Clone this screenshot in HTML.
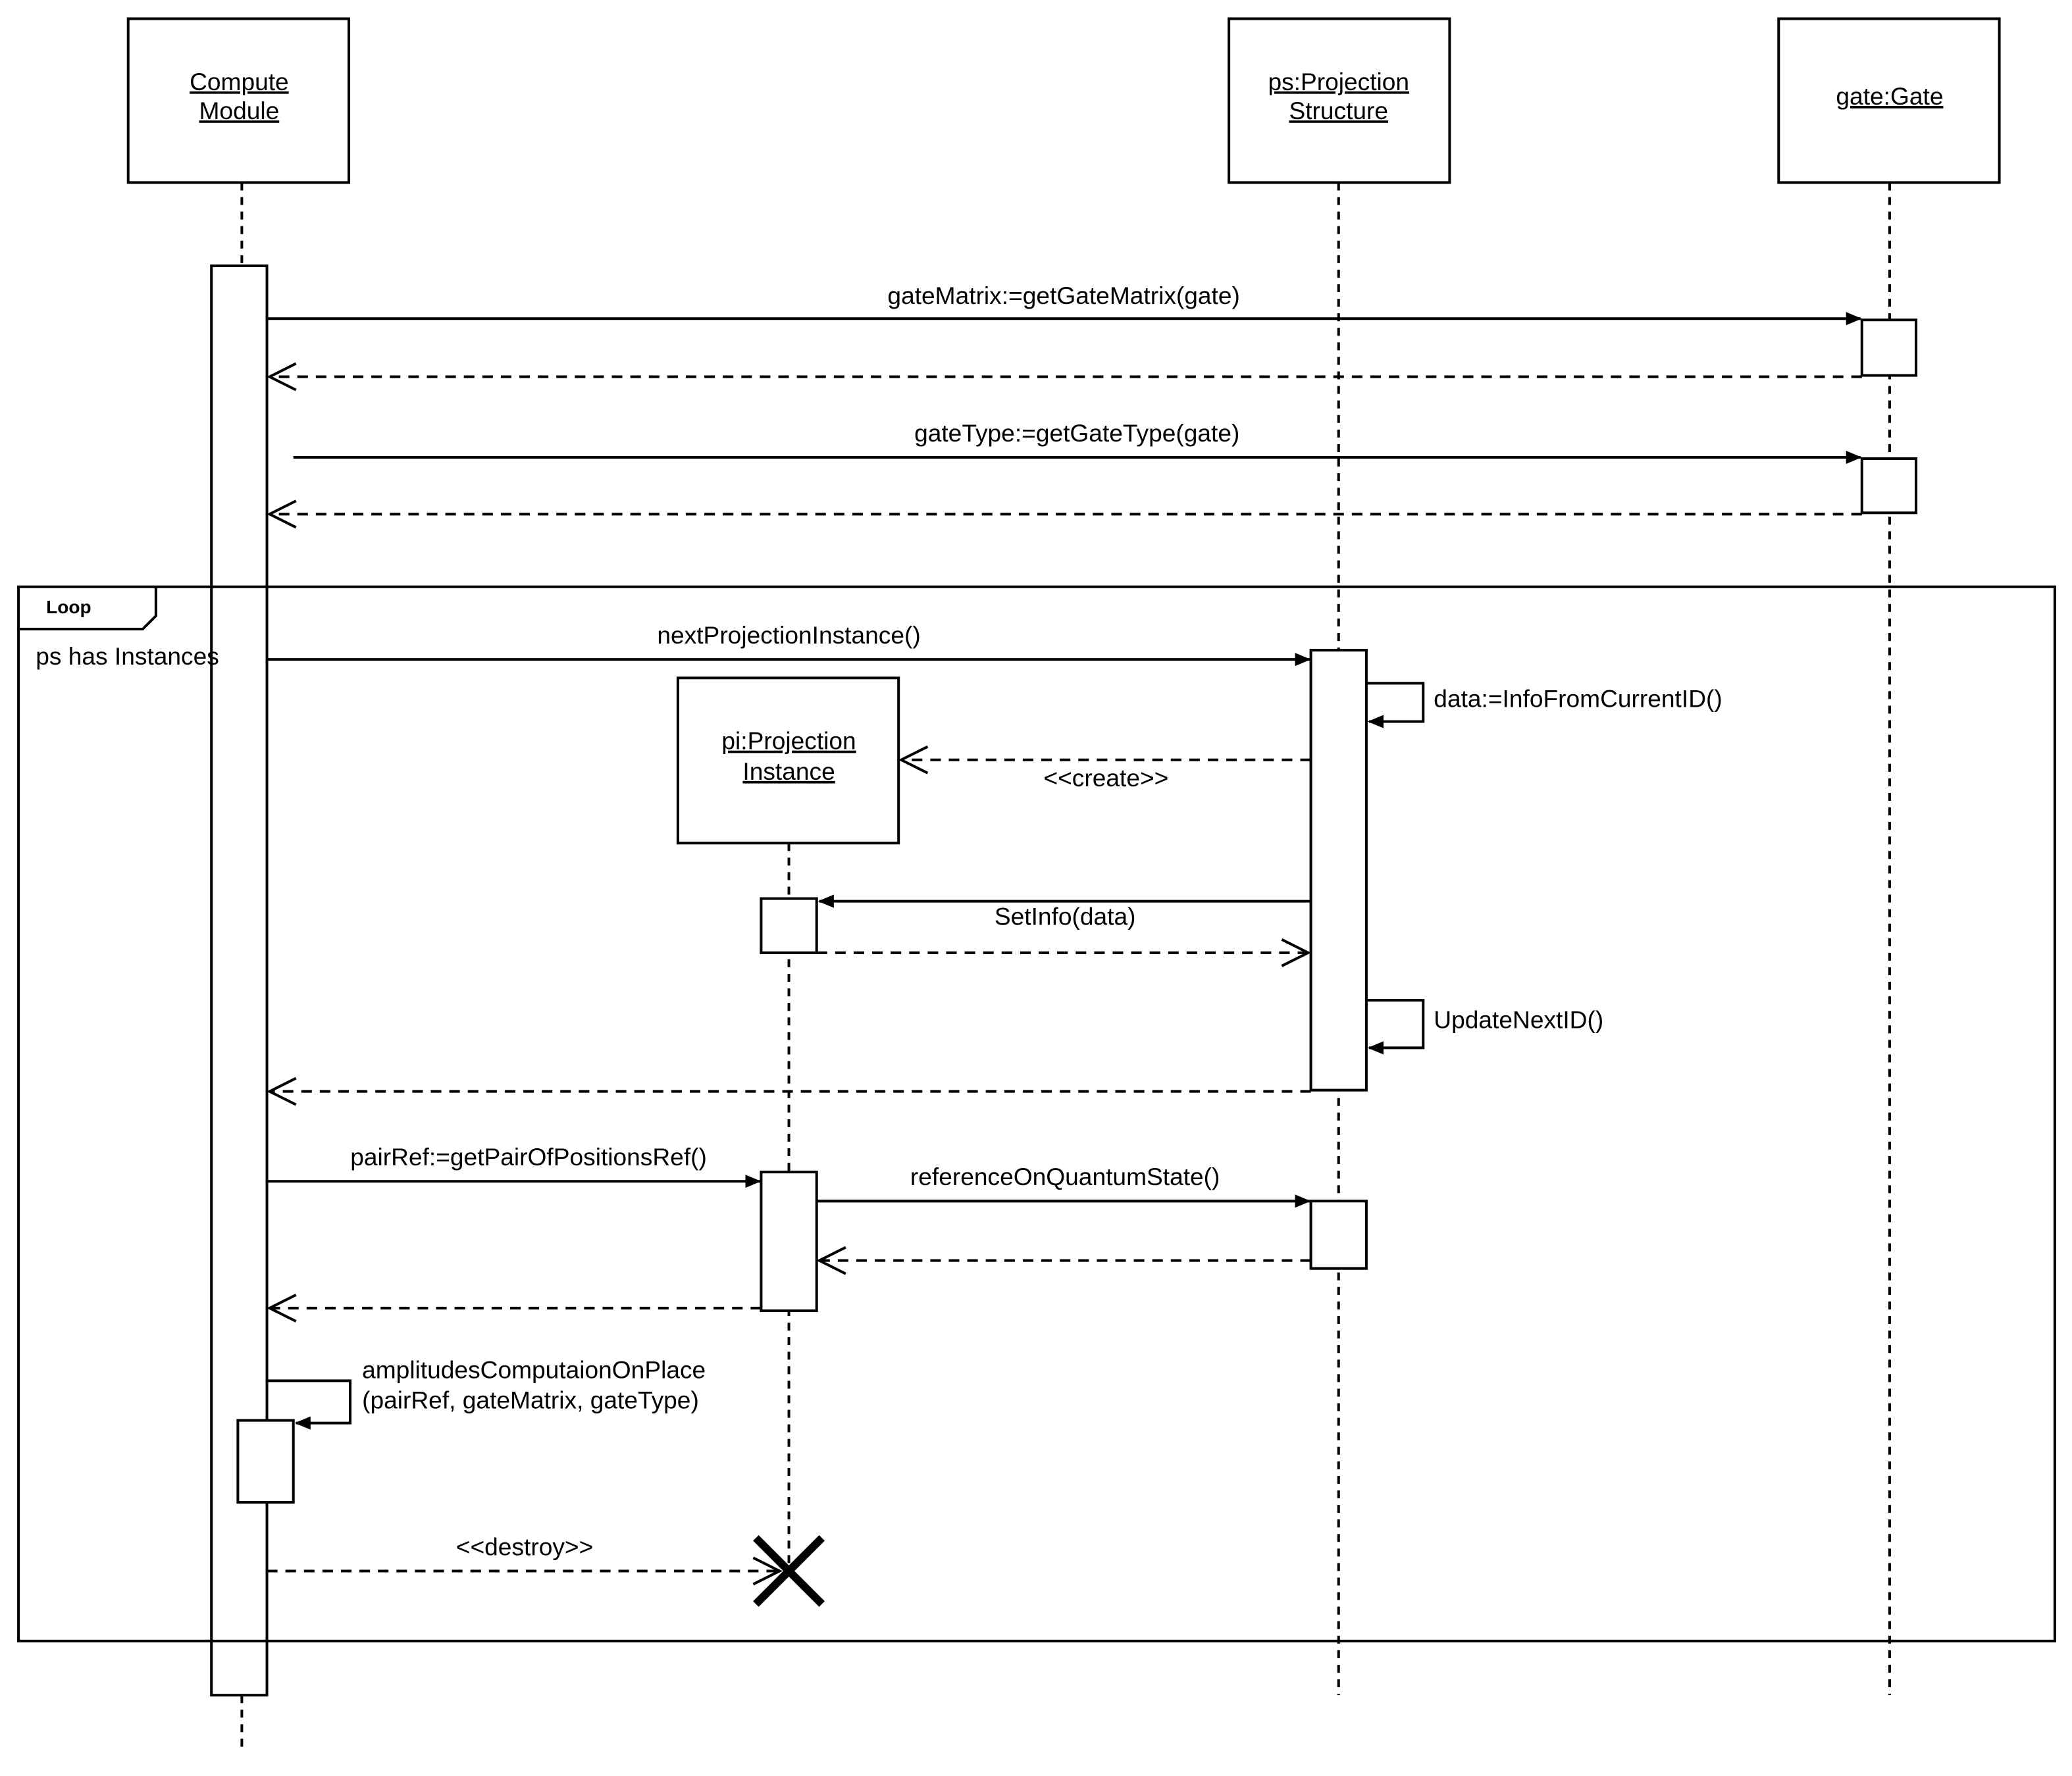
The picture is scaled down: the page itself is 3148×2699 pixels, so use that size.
<!DOCTYPE html>
<html><head><style>html,body{margin:0;padding:0;background:#fff}svg{display:block}</style></head>
<body>
<svg xmlns="http://www.w3.org/2000/svg" width="3148" height="2699" viewBox="0 0 1568 1344">
<defs>
<marker id="f" markerWidth="12" markerHeight="10" refX="11" refY="5" orient="auto" markerUnits="userSpaceOnUse"><path d="M0,0 L12,5 L0,10 z" fill="#000"/></marker>
<marker id="o" markerWidth="24" markerHeight="22" refX="22" refY="11" orient="auto" markerUnits="userSpaceOnUse"><path d="M2,1 L22,11 L2,21" fill="none" stroke="#000" stroke-width="2"/></marker>
</defs>
<rect width="1568" height="1344" fill="#fff"/>
<g font-family="Liberation Sans, sans-serif" font-size="18.5" fill="#000" text-anchor="middle">
<g fill="#fff" stroke="#000" stroke-width="2">
<rect x="97" y="14" width="167" height="124"/>
<rect x="930" y="14" width="167" height="124"/>
<rect x="1346" y="14" width="167" height="124"/>
</g>
<text x="181" y="68" text-decoration="underline">Compute</text>
<text x="181" y="90" text-decoration="underline">Module</text>
<text x="1013" y="68" text-decoration="underline">ps:Projection</text>
<text x="1013" y="90" text-decoration="underline">Structure</text>
<text x="1430" y="79" text-decoration="underline">gate:Gate</text>
<g stroke="#000" stroke-width="2" stroke-dasharray="6,5" fill="none">
<line x1="183" y1="138" x2="183" y2="201"/>
<line x1="183" y1="1283" x2="183" y2="1325"/>
<line x1="1013" y1="138" x2="1013" y2="1283"/>
<line x1="1430" y1="138" x2="1430" y2="1283"/>
<line x1="597" y1="638" x2="597" y2="1190"/>
</g>
<text x="27" y="503" text-anchor="start">ps has Instances</text>
<g stroke="#000" stroke-width="2" fill="#fff">
<rect x="1409" y="242" width="41" height="42"/>
<rect x="1409" y="347" width="41" height="41"/>
<rect x="992" y="492" width="42" height="333"/>
<rect x="992" y="909" width="42" height="51"/>
<rect x="513" y="513" width="167" height="125"/>
<rect x="576" y="680" width="42" height="41"/>
<rect x="576" y="887" width="42" height="105"/>
</g>
<rect x="160" y="201" width="42" height="1082" fill="none" stroke="#000" stroke-width="2"/>
<rect x="180" y="1075" width="42" height="62" fill="#fff" stroke="#000" stroke-width="2"/>
<g stroke="#000" stroke-width="2" fill="none">
<rect x="14" y="444" width="1541" height="798"/>
<path d="M14,476 L108,476 L118,466 L118,444"/>
</g>
<text x="52" y="464" font-size="14" font-weight="bold">Loop</text>
<text x="597" y="567" text-decoration="underline">pi:Projection</text>
<text x="597" y="590" text-decoration="underline">Instance</text>
<g stroke="#000" stroke-width="2" fill="none">
<line x1="202" y1="241" x2="1408" y2="241" marker-end="url(#f)"/>
<line x1="1409" y1="285" x2="204" y2="285" stroke-dasharray="8,6" marker-end="url(#o)"/>
<line x1="222" y1="346" x2="1408" y2="346" marker-end="url(#f)"/>
<line x1="1409" y1="389" x2="204" y2="389" stroke-dasharray="8,6" marker-end="url(#o)"/>
<line x1="202" y1="499" x2="991" y2="499" marker-end="url(#f)"/>
<path d="M1034,517 L1077,517 L1077,546 L1036,546" marker-end="url(#f)"/>
<line x1="992" y1="575" x2="682" y2="575" stroke-dasharray="8,6" marker-end="url(#o)"/>
<line x1="992" y1="682" x2="620" y2="682" marker-end="url(#f)"/>
<line x1="618" y1="721" x2="990" y2="721" stroke-dasharray="8,6" marker-end="url(#o)"/>
<path d="M1034,757 L1077,757 L1077,793 L1036,793" marker-end="url(#f)"/>
<line x1="992" y1="826" x2="204" y2="826" stroke-dasharray="8,6" marker-end="url(#o)"/>
<line x1="202" y1="894" x2="575" y2="894" marker-end="url(#f)"/>
<line x1="618" y1="909" x2="991" y2="909" marker-end="url(#f)"/>
<line x1="992" y1="954" x2="620" y2="954" stroke-dasharray="8,6" marker-end="url(#o)"/>
<line x1="576" y1="990" x2="204" y2="990" stroke-dasharray="8,6" marker-end="url(#o)"/>
<path d="M202,1045 L265,1045 L265,1077 L224,1077" marker-end="url(#f)"/>
<line x1="202" y1="1189" x2="590" y2="1189" stroke-dasharray="8,6" marker-end="url(#o)"/>
</g>
<g stroke="#000" stroke-width="6">
<line x1="572" y1="1164" x2="622" y2="1214"/>
<line x1="622" y1="1164" x2="572" y2="1214"/>
</g>
<text x="805" y="230">gateMatrix:=getGateMatrix(gate)</text>
<text x="815" y="334">gateType:=getGateType(gate)</text>
<text x="597" y="487">nextProjectionInstance()</text>
<text x="1085" y="535" text-anchor="start">data:=InfoFromCurrentID()</text>
<text x="837" y="595">&lt;&lt;create&gt;&gt;</text>
<text x="806" y="700">SetInfo(data)</text>
<text x="1085" y="778" text-anchor="start">UpdateNextID()</text>
<text x="400" y="882">pairRef:=getPairOfPositionsRef()</text>
<text x="806" y="897">referenceOnQuantumState()</text>
<text x="274" y="1043" text-anchor="start">amplitudesComputaionOnPlace</text>
<text x="274" y="1066" text-anchor="start">(pairRef, gateMatrix, gateType)</text>
<text x="397" y="1177">&lt;&lt;destroy&gt;&gt;</text>
</g>
</svg>
</body></html>
